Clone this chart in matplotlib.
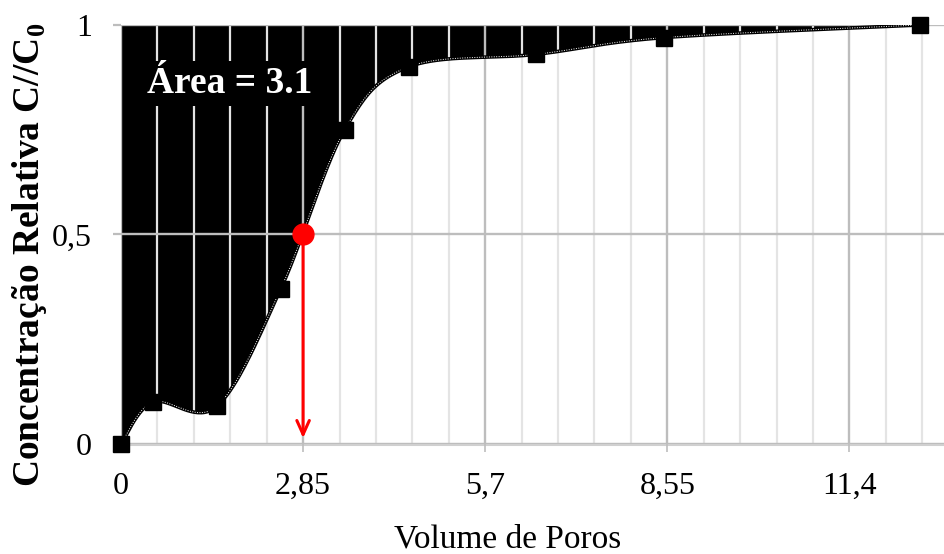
import matplotlib
matplotlib.use('Agg')
import matplotlib.pyplot as plt
import numpy as np

plt.rcParams['font.family'] = ['Liberation Serif', 'DejaVu Serif']
plt.rcParams['mathtext.fontset'] = 'custom'
plt.rcParams['mathtext.rm'] = 'Liberation Serif'
plt.rcParams['mathtext.bf'] = 'Liberation Serif:bold'

# data
pore_vol = [0, 0.5, 1.5, 2.5, 3.5, 4.5, 6.5, 8.5, 12.5]
rel_conc = [0, 0.10, 0.09, 0.37, 0.75, 0.90, 0.93, 0.97, 1.0]
half_x, half_y = 2.85, 0.5
area_txt = 'Área = 3.1'
xticks = [0, 2.85, 5.7, 8.55, 11.4]
xlabels = ['0', '2,85', '5,7', '8,55', '11,4']
yticks = [0, 0.5, 1]
ylabels = ['0', '0,5', '1']


def smooth(x, y, n=40):
    # excel-like smoothed line (bezier, control pts = neighbours/6)
    x = np.asarray(x, float)
    y = np.asarray(y, float)
    px = np.concatenate([[x[0]], x, [x[-1]]])
    py = np.concatenate([[y[0]], y, [y[-1]]])
    t = np.linspace(0, 1, n)
    outx, outy = [], []
    for i in range(1, len(px) - 2):
        p0 = np.array([px[i], py[i]])
        p3 = np.array([px[i + 1], py[i + 1]])
        p1 = p0 + (p3 - np.array([px[i - 1], py[i - 1]])) / 6
        p2 = p3 - (np.array([px[i + 2], py[i + 2]]) - p0) / 6
        b = ((1 - t) ** 3)[:, None] * p0 + (3 * (1 - t) ** 2 * t)[:, None] * p1 \
            + (3 * (1 - t) * t ** 2)[:, None] * p2 + (t ** 3)[:, None] * p3
        outx.append(b[:, 0])
        outy.append(b[:, 1])
    return np.concatenate(outx), np.concatenate(outy)


sx, sy = smooth(pore_vol, rel_conc)

fig = plt.figure(figsize=(9.45, 5.54), dpi=100)
ax = fig.add_axes([0.128, 0.1986, 0.871, 0.7563])

ax.fill_between(sx, sy, 1, color='black', lw=0, zorder=1)

ax.set_xlim(0, 12.88)
ax.set_ylim(0, 1)
ax.set_xticks(xticks)
ax.set_xticklabels(xlabels)
ax.set_xticks(np.arange(0, 12.88, 0.57), minor=True)
ax.set_yticks(yticks)
ax.set_yticklabels(ylabels)

ax.set_axisbelow(False)
ax.grid(True, which='major', axis='x', color='#bdbdbd', lw=1.7)
ax.grid(True, which='minor', axis='x', color='#e4e4e4', lw=1.6)
ax.grid(True, which='major', axis='y', color='#bdbdbd', lw=1.7)

for s in ['top', 'right', 'left']:
    ax.spines[s].set_visible(False)
ax.spines['bottom'].set_color('#d0d0d0')
ax.spines['bottom'].set_linewidth(2.2)

ax.tick_params(axis='x', which='major', length=6, width=1.2, color='#bdbdbd',
               direction='out', pad=14, labelsize=23)
ax.tick_params(axis='x', which='minor', length=0)
ax.tick_params(axis='y', which='major', length=6, width=1.6, color='#bdbdbd',
               direction='out', pad=15, labelsize=23)

ax.text(0.41, 0.838, area_txt, color='white', fontsize=27, fontweight='bold',
        ha='left', va='baseline', zorder=3,
        bbox=dict(boxstyle='square,pad=0.14', fc='black', ec='none'))

ax.plot(sx, sy, color='black', lw=2.6, zorder=4, solid_capstyle='round')
ax.plot(sx, sy, color='white', lw=0.7, ls=(0, (1, 1.5)), zorder=4.5)
ax.plot(pore_vol, rel_conc, ls='none', marker='s', ms=11, color='black',
        zorder=5, clip_on=False)

ax.annotate('', xy=(half_x, 0.014), xytext=(half_x, half_y),
            arrowprops=dict(arrowstyle='->,head_length=1.0,head_width=0.45',
                            color='red', lw=2.2, shrinkA=0, shrinkB=0), zorder=6)
ax.plot([half_x], [half_y], marker='o', ms=15, color='red', zorder=7)

fig.text(30 / 945, 1 - 255 / 554, 'Concentração Relativa C//C$_\\mathbf{0}$',
         rotation=90, ha='center', va='center', fontsize=27, fontweight='bold')
fig.text(508 / 945, 6 / 554, 'Volume de Poros', ha='center', va='baseline',
         fontsize=24)

fig.savefig('out.png', dpi=100)
